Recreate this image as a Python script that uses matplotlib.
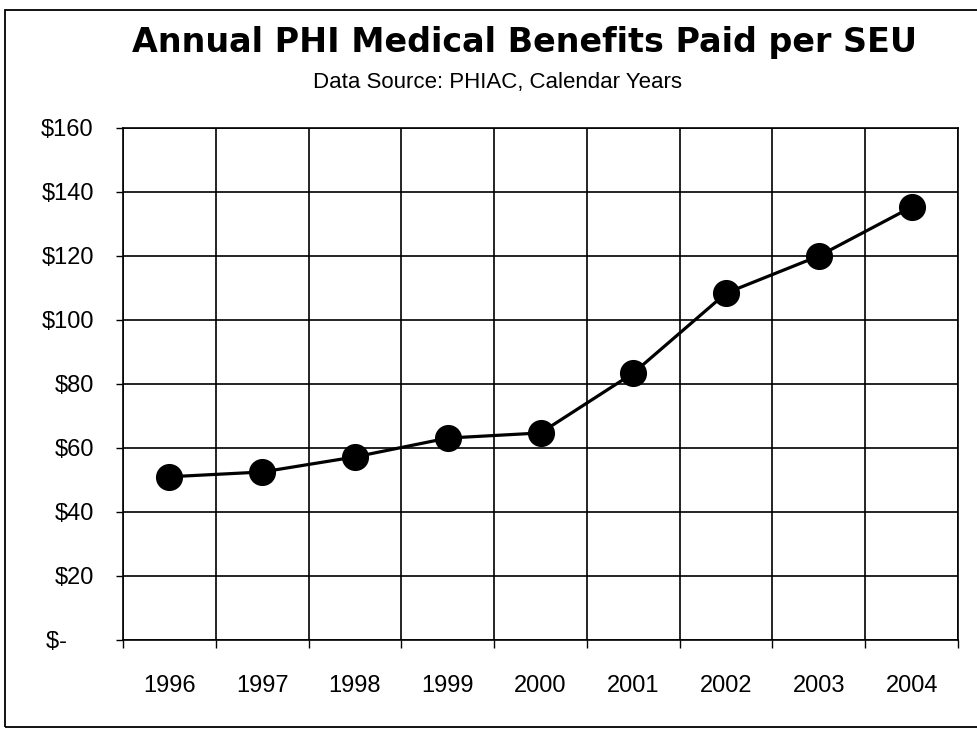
import matplotlib
matplotlib.use("Agg")
import matplotlib.pyplot as plt
from matplotlib.patches import Rectangle

years = ['1996', '1997', '1998', '1999', '2000', '2001', '2002', '2003', '2004']
benefits = [51, 52.5, 57.2, 63.1, 64.7, 83.4, 108.4, 120, 135.3]
y_ticks = [0, 20, 40, 60, 80, 100, 120, 140, 160]
y_labels = ['$-    ', '$20', '$40', '$60', '$80', '$100', '$120', '$140', '$160']

fig = plt.figure(figsize=(9.77, 7.3), dpi=100)
ax = fig.add_axes([0.1259, 0.1233, 0.8547, 0.7014])

x = list(range(len(years)))
ax.plot(x, benefits, color='black', linewidth=2.3, marker='o', markersize=18.5,
        markerfacecolor='black', markeredgecolor='black', zorder=5)

ax.set_xlim(-0.5, len(years) - 0.5)
ax.set_ylim(0, 160)

# gridlines: horizontal at each $20, vertical at category boundaries
for v in y_ticks:
    ax.axhline(v, color='black', linewidth=1.2, zorder=1)
for b in range(len(years) + 1):
    ax.axvline(b - 0.5, color='black', linewidth=1.2, zorder=1)

ax.set_yticks(y_ticks)
ax.set_yticklabels(y_labels, fontsize=17, family='Liberation Sans')
ax.tick_params(axis='y', direction='out', length=5, width=1, pad=16)

ax.set_xticks(x)
ax.set_xticklabels(years, fontsize=17, family='Liberation Sans')
ax.tick_params(axis='x', which='major', length=0, pad=25)
ax.set_xticks([b - 0.5 for b in range(len(years) + 1)], minor=True)
ax.tick_params(axis='x', which='minor', direction='out', length=6, width=1)

for s in ax.spines.values():
    s.set_linewidth(1.2)

fig.text(0.537, 0.942, 'Annual PHI Medical Benefits Paid per SEU', ha='center', va='center',
         fontsize=24, fontweight='bold', family='DejaVu Sans')
fig.text(0.509, 0.887, 'Data Source: PHIAC, Calendar Years', ha='center', va='center',
         fontsize=16, family='Liberation Sans')

# outer frame of the chart
fig.patches.append(Rectangle((5 / 977, 3 / 730), 1.2, 1 - 13 / 730, transform=fig.transFigure,
                             fill=False, edgecolor='black', linewidth=1.3))

fig.savefig('out.png', dpi=100)
